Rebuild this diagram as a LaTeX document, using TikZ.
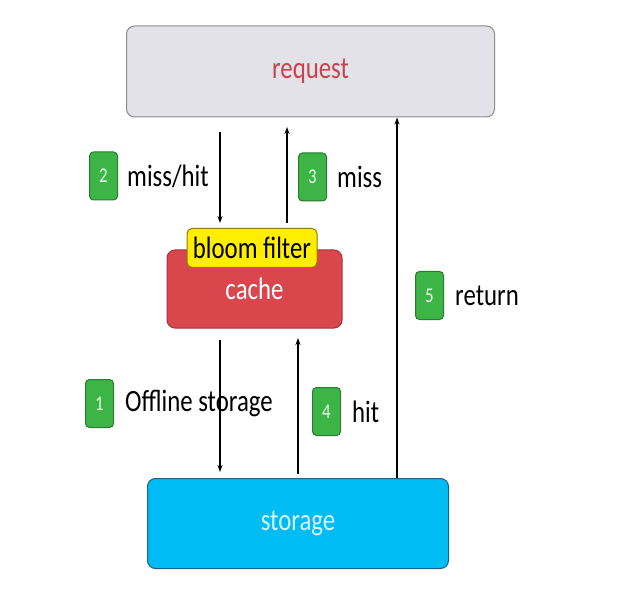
\documentclass[tikz,border=0pt]{standalone}
\usepackage{fontspec}
\setmainfont[FakeStretch=0.8]{Carlito}
\usetikzlibrary{arrows.meta}
\definecolor{reqfill}{HTML}{E2E2E8}
\definecolor{reqdraw}{HTML}{8C8C8C}
\definecolor{reqtext}{HTML}{C8434D}
\definecolor{cachefill}{HTML}{D9474D}
\definecolor{cachedraw}{HTML}{A3323A}
\definecolor{bloomfill}{HTML}{FFEE00}
\definecolor{bloomdraw}{HTML}{8A7E10}
\definecolor{storfill}{HTML}{00BCF5}
\definecolor{stordraw}{HTML}{1E5F8C}
\definecolor{stortext}{HTML}{D6F6FF}
\definecolor{badgefill}{HTML}{3DB446}
\definecolor{badgedraw}{HTML}{2A7A30}
\tikzset{
  box/.style={draw, line width=1pt, rounded corners=8pt, inner sep=0pt, font=\fontsize{31}{36}\selectfont},
  badge/.style={draw=badgedraw, fill=badgefill, line width=1pt, rounded corners=4pt, minimum width=28pt, minimum height=48pt, inner sep=0pt, text=white!90!green, font=\fontsize{21}{24}\selectfont},
  lbl/.style={anchor=west, inner sep=0pt, font=\fontsize{31}{36}\selectfont},
  arr/.style={line width=1.4pt, -{Stealth[length=7pt,width=5pt]}}
}
\begin{document}
\begin{tikzpicture}[x=1pt,y=-1pt]
\useasboundingbox (0,0) rectangle (631,601);
% boxes
\node[box, draw=reqdraw, fill=reqfill, text=reqtext, minimum width=368pt, minimum height=91pt] (request) at (310.5,71.5) {\raisebox{-3pt}{request}};
\node[box, draw=cachedraw, fill=cachefill, text=white, minimum width=175pt, minimum height=78pt] (cache) at (254.5,289) {\raisebox{-4pt}{cache}};
\node[box, draw=bloomdraw, fill=bloomfill, text=black, rounded corners=5pt, minimum width=130pt, minimum height=39pt] (bloom) at (252,248) {bloom filter};
\node[box, draw=stordraw, fill=storfill, text=stortext, minimum width=301pt, minimum height=90pt] (storage) at (298,523.5) {\raisebox{-3pt}{storage}};
% arrows
\coordinate (a2s) at (220,132);
\coordinate (a3e) at (287,127);
\coordinate (a1s) at (220,340);
\coordinate (a4e) at (298,338);
\draw[arr] (a2s) -- ([yshift=5pt]bloom.north -| a2s);
\draw[arr] ([yshift=5pt]bloom.north -| a3e) -- (a3e);
\draw[arr] (a1s) -- ([yshift=6pt]storage.north -| a1s);
\draw[arr] ([yshift=4pt]storage.north -| a4e) -- (a4e);
\coordinate (a5) at (397,0);
\draw[arr] (storage.north -| a5) -- (request.south -| a5);
% badges and labels
\node[badge] (b2) at (103.5,176) {2};
\node[lbl] (l2) at (127,176) {miss/hit};
\node[badge] (b3) at (312.5,177) {3};
\node[lbl] (l3) at (337,177) {miss};
\node[badge] (b1) at (99.5,403.5) {1};
\node[lbl] (l1) at (125,403.5) {Offline storage};
\node[badge] (b4) at (326.5,411.5) {4};
\node[lbl] (l4) at (352,411.5) {hit};
\node[badge] (b5) at (429.5,295.5) {5};
\node[lbl] (l5) at (455,295.5) {return};
\end{tikzpicture}
\end{document}
